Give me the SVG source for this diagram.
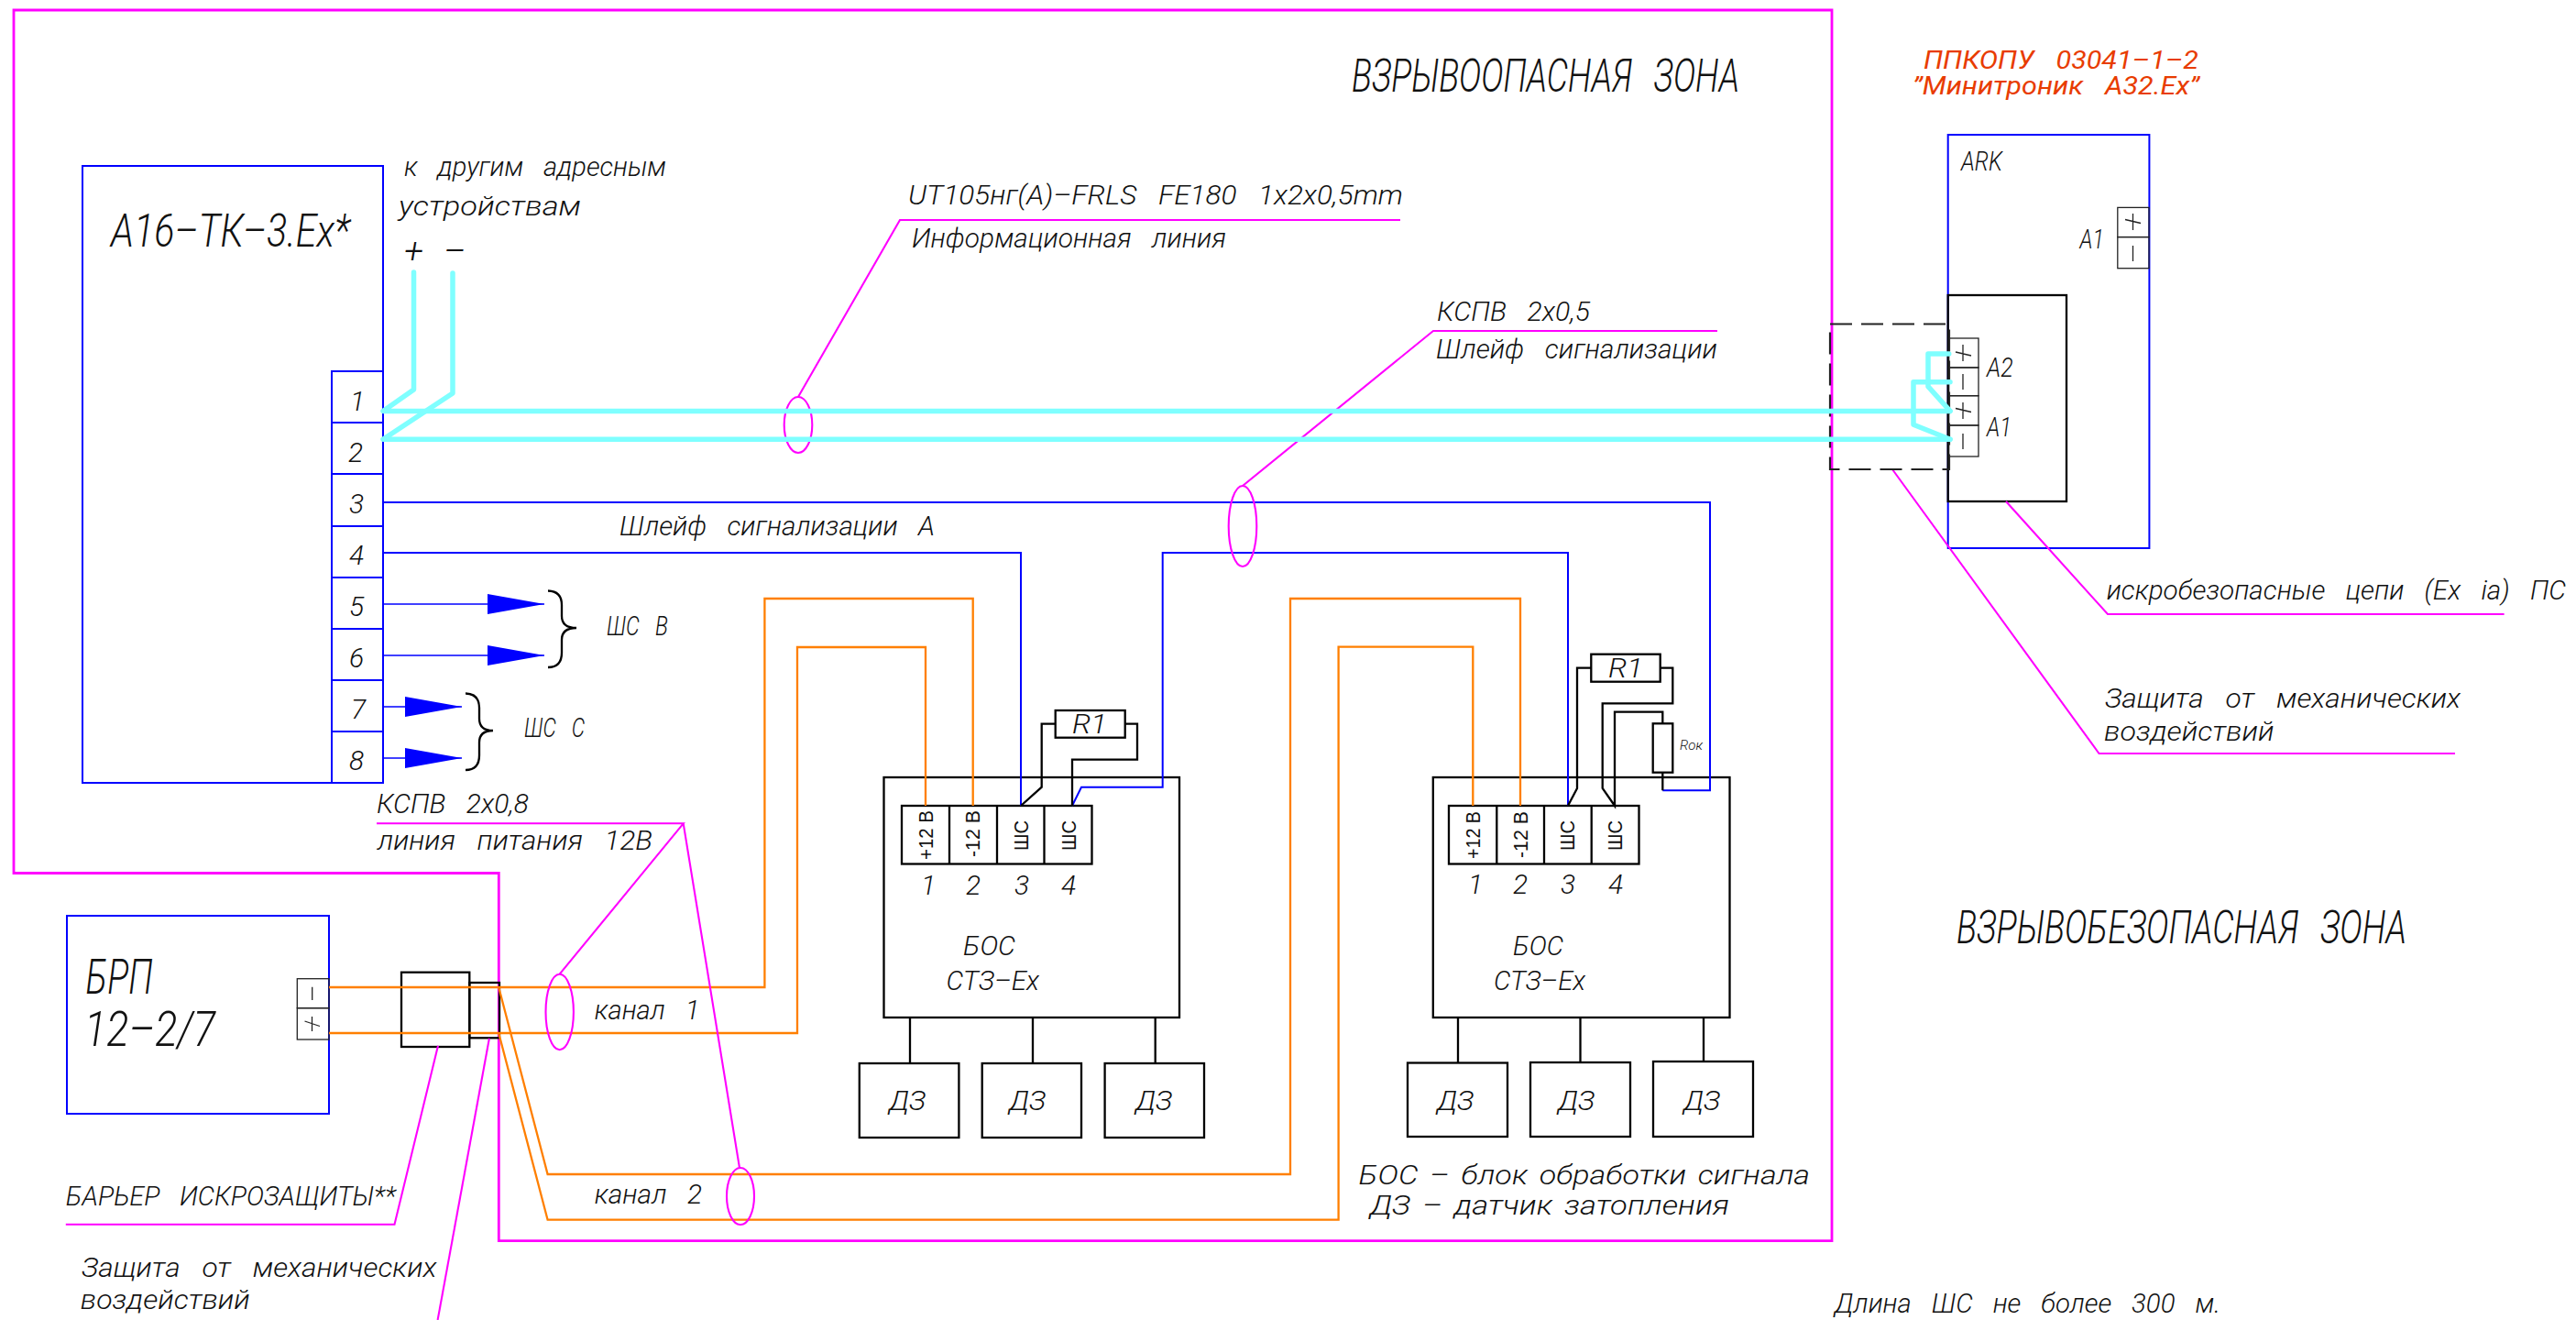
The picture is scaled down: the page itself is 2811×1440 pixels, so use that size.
<svg xmlns="http://www.w3.org/2000/svg" width="2811" height="1440" viewBox="0 0 2811 1440">
<style>
text{font-family:"Roboto","Liberation Sans",sans-serif;font-style:italic;font-weight:300;fill:#111;white-space:pre;font-size:30px;word-spacing:4px}
.xl{font-size:49px}
.xxl{font-size:54px}
.s{font-size:14px}
.pm{font-size:38px}
.red{fill:#e83c00;font-size:28px;font-weight:400}
.up{font-family:"Liberation Sans",sans-serif;font-style:normal;font-weight:400;font-size:22px;word-spacing:0}
rect,path,line,ellipse{fill:none}
.blue{stroke:#00f;stroke-width:2}
.fine{stroke:#00f;stroke-width:1.6}
.mag{stroke:#f0f;stroke-width:2.1}
.mag2{stroke:#f0f;stroke-width:2.8}
.org{stroke:#ff7f00;stroke-width:2.3}
.cyan{stroke:#7fffff;stroke-width:5.5;stroke-linecap:round;stroke-linejoin:round}
.blk{stroke:#000;stroke-width:2.3}
.thin{stroke:#222;stroke-width:1.3}
.dash{stroke:#222;stroke-width:2.2;stroke-dasharray:24 10}
.ahp{fill:#00f}
</style>
<defs>
<marker id="ah" markerUnits="userSpaceOnUse" markerWidth="62" markerHeight="22" refX="62" refY="11" orient="auto"><path class="ahp" d="M0 0L62 11L0 22z"/></marker>
</defs>

<g id="zones">
<path class="mag2" d="M15 952.5V11H1999V1353.7H544.3V952.5z"/>
<text class="xl" x="1475" y="100" textLength="423" lengthAdjust="spacingAndGlyphs">ВЗРЫВООПАСНАЯ  ЗОНА</text>
<text class="xl" x="2135" y="1029" textLength="491" lengthAdjust="spacingAndGlyphs">ВЗРЫВОБЕЗОПАСНАЯ  ЗОНА</text>
</g>

<g id="a16">
<rect class="blue" x="90" y="181" width="328" height="673"/>
<path class="blue" d="M362 854V405H418M362 461H418M362 517H418M362 574H418M362 630H418M362 686H418M362 742H418M362 798H418"/>
<text class="xl" x="121" y="269" textLength="261" lengthAdjust="spacingAndGlyphs">А16–ТК–3.Ex*</text>
<text x="382" y="448">1</text><text x="380" y="504">2</text><text x="381" y="560">3</text><text x="381" y="616">4</text>
<text x="381" y="672">5</text><text x="381" y="728">6</text><text x="383" y="784">7</text><text x="381" y="840">8</text>
<text x="441" y="192" textLength="286" lengthAdjust="spacingAndGlyphs">к  другим  адресным</text>
<text x="435" y="235" textLength="199" lengthAdjust="spacingAndGlyphs">устройствам</text>
<text class="pm" x="441" y="287">+</text><text class="pm" x="484" y="287">–</text>
<path class="blk" d="M598 644.5Q613 645 613 660V672Q613 685 629 685Q613 685 613 698V712Q613 728 598 728"/>
<path class="blk" d="M508 756.5Q523 757 523 772V784Q523 797 538 797Q523 797 523 810V824Q523 840 508 840"/>
<text x="662" y="693" textLength="67" lengthAdjust="spacingAndGlyphs">ШС  В</text>
<text x="572" y="804" textLength="66" lengthAdjust="spacingAndGlyphs">ШС  С</text>
</g>

<g id="brp">
<rect class="blue" x="73" y="999" width="286" height="216"/>
<rect class="thin" x="324.3" y="1067.7" width="34.7" height="32"/>
<rect class="thin" x="324.3" y="1099.7" width="34.7" height="34.3"/>
<path class="thin" d="M340.7 1076.7V1091M332.5 1114L349 1119.500M340.500 1109V1125"/>
<text class="xxl" x="93.6" y="1084.3" textLength="73" lengthAdjust="spacingAndGlyphs">БРП</text>
<text class="xxl" x="92" y="1141" textLength="143" lengthAdjust="spacingAndGlyphs">12–2/7</text>
</g>

<g id="barrier">
<rect class="blk" x="438" y="1060.7" width="74.3" height="81.3"/>
<rect class="blk" x="512.3" y="1072" width="32.7" height="60.3"/>
<text x="71.8" y="1315" textLength="360" lengthAdjust="spacingAndGlyphs">БАРЬЕР  ИСКРОЗАЩИТЫ**</text>
<text x="89" y="1392.7" textLength="387.500" lengthAdjust="spacingAndGlyphs">Защита  от  механических</text>
<text x="87.8" y="1427.7" textLength="185" lengthAdjust="spacingAndGlyphs">воздействий</text>
</g>

<g id="bos1">
<rect class="blk" x="964.5" y="848" width="322.500" height="262"/>
<rect class="blk" x="984" y="879" width="207.500" height="63.500"/>
<path class="blk" d="M1036 879V942.5M1088 879V942.5M1139.500 879V942.500"/>
<rect class="blk" x="1151.700" y="775" width="76" height="29.700"/>
<text x="1170" y="800" textLength="38" lengthAdjust="spacingAndGlyphs">R1</text>
<text class="up" transform="translate(1018 938) rotate(-90)" textLength="54" lengthAdjust="spacingAndGlyphs">+12 В</text>
<text class="up" transform="translate(1069.300 935) rotate(-90)" textLength="51" lengthAdjust="spacingAndGlyphs">-12 В</text>
<text class="up" transform="translate(1121.700 928) rotate(-90)" textLength="33" lengthAdjust="spacingAndGlyphs">ШС</text>
<text class="up" transform="translate(1174 928) rotate(-90)" textLength="33" lengthAdjust="spacingAndGlyphs">ШС</text>
<text x="1005" y="976">1</text><text x="1054" y="976">2</text><text x="1107" y="976">3</text><text x="1158" y="976">4</text>
<text x="1051" y="1042" textLength="57" lengthAdjust="spacingAndGlyphs">БОС</text>
<text x="1032.600" y="1080" textLength="101.400" lengthAdjust="spacingAndGlyphs">СТЗ–Ex</text>
</g>

<g id="bos1-sensors">
<rect class="blk" x="937.800" y="1160" width="108.600" height="81"/>
<rect class="blk" x="1071.700" y="1160" width="108.300" height="81"/>
<rect class="blk" x="1205.600" y="1160" width="108.400" height="81"/>
<text x="970" y="1210.500" textLength="40" lengthAdjust="spacingAndGlyphs">ДЗ</text>
<text x="1101" y="1210.500" textLength="40" lengthAdjust="spacingAndGlyphs">ДЗ</text>
<text x="1239" y="1210.500" textLength="40" lengthAdjust="spacingAndGlyphs">ДЗ</text>
</g>

<g id="bos2">
<rect class="blk" x="1563.800" y="848" width="323.700" height="262"/>
<rect class="blk" x="1581" y="879" width="207.500" height="63.500"/>
<path class="blk" d="M1633.300 879V942.500M1685 879V942.500M1736.700 879V942.500"/>
<rect class="blk" x="1736.300" y="713.700" width="75.400" height="30"/>
<text x="1755" y="739" textLength="38" lengthAdjust="spacingAndGlyphs">R1</text>
<rect class="blk" x="1803.700" y="789.300" width="21.600" height="53.400"/>
<text class="s" x="1833" y="818" textLength="25" lengthAdjust="spacingAndGlyphs">Rок</text>
<text class="up" transform="translate(1615 937) rotate(-90)" textLength="52" lengthAdjust="spacingAndGlyphs">+12 В</text>
<text class="up" transform="translate(1666.700 936) rotate(-90)" textLength="51" lengthAdjust="spacingAndGlyphs">-12 В</text>
<text class="up" transform="translate(1718.300 928) rotate(-90)" textLength="33" lengthAdjust="spacingAndGlyphs">ШС</text>
<text class="up" transform="translate(1770 928) rotate(-90)" textLength="33" lengthAdjust="spacingAndGlyphs">ШС</text>
<text x="1602" y="975">1</text><text x="1651" y="975">2</text><text x="1703" y="975">3</text><text x="1755" y="975">4</text>
<text x="1651" y="1042" textLength="55" lengthAdjust="spacingAndGlyphs">БОС</text>
<text x="1630" y="1080" textLength="100" lengthAdjust="spacingAndGlyphs">СТЗ–Ex</text>
</g>

<g id="bos2-sensors">
<rect class="blk" x="1536" y="1159.500" width="109" height="80.500"/>
<rect class="blk" x="1670" y="1159" width="109" height="81"/>
<rect class="blk" x="1804" y="1158" width="109" height="82"/>
<text x="1568" y="1210.500" textLength="40" lengthAdjust="spacingAndGlyphs">ДЗ</text>
<text x="1700" y="1210.500" textLength="40" lengthAdjust="spacingAndGlyphs">ДЗ</text>
<text x="1837" y="1210.500" textLength="40" lengthAdjust="spacingAndGlyphs">ДЗ</text>
</g>

<g id="ark">
<rect class="blue" x="2125.700" y="147" width="219.700" height="451"/>
<rect class="blk" x="2125.700" y="322" width="129.300" height="225"/>
<rect class="thin" x="2310.800" y="226.400" width="34.200" height="32.200"/>
<rect class="thin" x="2310.800" y="258.600" width="34.200" height="34.100"/>
<path class="thin" d="M2327.500 268V285M2319 239.500L2336 243.500M2327.500 233V251"/>
<rect class="thin" x="2126.700" y="369" width="32.300" height="32"/>
<rect class="thin" x="2126.700" y="401" width="32.300" height="30.700"/>
<rect class="thin" x="2126.700" y="431.700" width="32.300" height="32.300"/>
<rect class="thin" x="2126.700" y="464" width="32.300" height="34"/>
<path class="thin" d="M2134 384L2151 388M2142 376V394M2142 408V425M2134 445.500L2151 449.500M2142 439V457M2142 473V490"/>
<text x="2140" y="186" textLength="45" lengthAdjust="spacingAndGlyphs">ARK</text>
<text x="2269.600" y="271" textLength="26.400" lengthAdjust="spacingAndGlyphs">А1</text>
<text x="2168" y="410.700" textLength="28.700" lengthAdjust="spacingAndGlyphs">А2</text>
<text x="2168" y="476" textLength="27" lengthAdjust="spacingAndGlyphs">А1</text>
<text class="red" x="2099" y="75" textLength="300" lengthAdjust="spacingAndGlyphs">ППКОПУ  03041–1–2</text>
<text class="red" x="2087" y="103" textLength="313" lengthAdjust="spacingAndGlyphs">”Минитроник  А32.Ex”</text>
</g>

<g id="labels">
<text x="991" y="223" textLength="540" lengthAdjust="spacingAndGlyphs">UT105нг(А)–FRLS  FE180  1x2x0,5mm</text>
<text x="995" y="270" textLength="343" lengthAdjust="spacingAndGlyphs">Информационная  линия</text>
<text x="1568" y="350" textLength="167" lengthAdjust="spacingAndGlyphs">КСПВ  2х0,5</text>
<text x="1567" y="391" textLength="307" lengthAdjust="spacingAndGlyphs">Шлейф  сигнализации</text>
<text x="676" y="584" textLength="344" lengthAdjust="spacingAndGlyphs">Шлейф  сигнализации  А</text>
<text x="411" y="887" textLength="166" lengthAdjust="spacingAndGlyphs">КСПВ  2х0,8</text>
<text x="412" y="926.700" textLength="300" lengthAdjust="spacingAndGlyphs">линия  питания  12В</text>
<text x="648.700" y="1112" textLength="114.800" lengthAdjust="spacingAndGlyphs">канал  1</text>
<text x="648.700" y="1313" textLength="117.300" lengthAdjust="spacingAndGlyphs">канал  2</text>
<text x="1482.600" y="1292" textLength="492.400" lengthAdjust="spacingAndGlyphs">БОС – блок обработки сигнала</text>
<text x="1494.800" y="1325" textLength="392.200" lengthAdjust="spacingAndGlyphs">ДЗ – датчик затопления</text>
<text x="2298.700" y="653.500" textLength="501.300" lengthAdjust="spacingAndGlyphs">искробезопасные  цепи  (Ex  ia)  ПС</text>
<text x="2297" y="772" textLength="388" lengthAdjust="spacingAndGlyphs">Защита  от  механических</text>
<text x="2296" y="807.500" textLength="185.600" lengthAdjust="spacingAndGlyphs">воздействий</text>
<text x="2001.800" y="1431.700" textLength="421.200" lengthAdjust="spacingAndGlyphs">Длина  ШС  не  более  300  м.</text>
</g>

<g id="connectors">
<path class="fine" d="M418 659H594" marker-end="url(#ah)"/>
<path class="fine" d="M418 715H594" marker-end="url(#ah)"/>
<path class="fine" d="M418 771H504" marker-end="url(#ah)"/>
<path class="fine" d="M418 827H504" marker-end="url(#ah)"/>
<path class="blue" d="M418 603H1114V879"/>
<path class="blue" d="M1170 879L1180 858.700H1268.700V603H1711V879"/>
<path class="blue" d="M418 548H1866V862.300H1814.300"/>
<path class="blk" d="M1114 879L1136.700 858.700V789.700H1151.700M1227.700 789.700H1241V828.700H1170V879"/>
<path class="blk" d="M1711 879L1721 860V728.700H1736.300M1811.700 728.700H1825.300V767.300H1748.700V860L1762 879V776.700H1814.300V789.300M1814.300 842.700V862.300"/>
<path class="blk" d="M993 1110V1160M1127 1110V1160M1260.700 1110V1160M1591 1110V1159M1724.500 1110V1159M1859 1110V1158"/>
<path class="org" d="M359 1077H834.400V653H1061.700V879"/>
<path class="org" d="M359 1127H870V706H1010V879"/>
<path class="org" d="M544.200 1077L597.600 1281H1408V653H1659V879"/>
<path class="org" d="M544.200 1127L597.600 1330.700H1460.600V705.700H1607.300V879"/>
<path class="mag" d="M1528 240H982L871 433"/>
<ellipse class="mag" cx="871" cy="463.500" rx="15.300" ry="30.500"/>
<path class="mag" d="M1874 361H1564L1356 530"/>
<ellipse class="mag" cx="1356" cy="574" rx="15.300" ry="44"/>
<path class="mag" d="M411 898.300H745.700L610.700 1062.700M745.700 898.300L807 1274"/>
<ellipse class="mag" cx="610.700" cy="1104" rx="15.200" ry="41.300"/>
<ellipse class="mag" cx="808" cy="1305" rx="15" ry="31"/>
<path class="mag" d="M71.800 1335.700H430.500L478 1140.700"/>
<path class="mag" d="M533.900 1132.700L477.600 1440"/>
<path class="mag" d="M2189 547L2300 670H2732.600"/>
<path class="mag" d="M2065 512L2290.500 822H2679"/>
<rect class="dash" x="1997" y="353.500" width="130" height="158.500"/>
<path class="cyan" d="M451.500 297V425L418 448.500H2128"/>
<path class="cyan" d="M494 298V429L418 479.300H2128"/>
<path class="cyan" d="M2126.700 386H2104V421.700L2128 448.300"/>
<path class="cyan" d="M2128 416.700H2088V463.300L2128 479.300"/>
</g>
</svg>
